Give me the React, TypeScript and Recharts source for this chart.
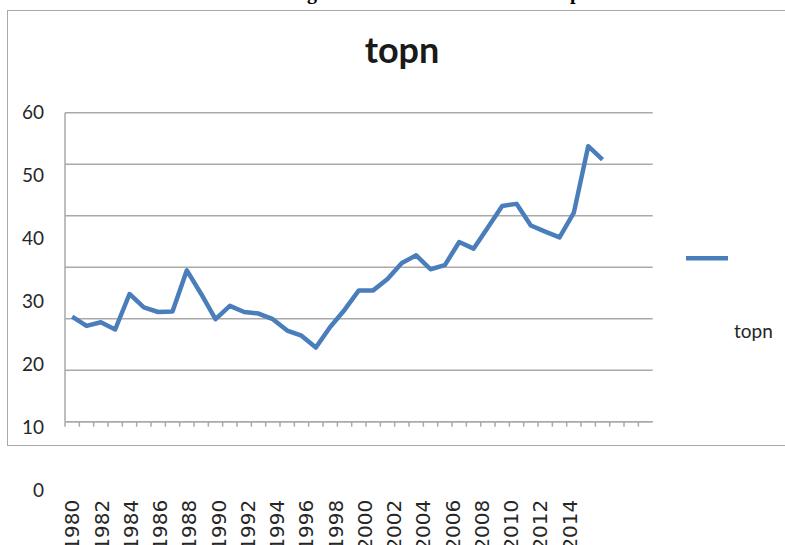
import React from "react";
import { LineChart, Line, XAxis, YAxis, CartesianGrid, Legend } from "recharts";

// yearly values (0..60)
const YEARS = [
  1980, 1981, 1982, 1983, 1984, 1985, 1986, 1987, 1988, 1989,
  1990, 1991, 1992, 1993, 1994, 1995, 1996, 1997, 1998, 1999,
  2000, 2001, 2002, 2003, 2004, 2005, 2006, 2007, 2008, 2009,
  2010, 2011, 2012, 2013, 2014, 2015, 2016, 2017,
];
const TOPN = [
  20.4, 18.6, 19.3, 17.9, 24.8, 22.2, 21.3, 21.4, 29.4, 24.8,
  19.9, 22.5, 21.3, 21.0, 19.9, 17.7, 16.7, 14.4, 18.4, 21.7,
  25.5, 25.5, 27.7, 30.8, 32.3, 29.6, 30.4, 34.9, 33.6, 37.7,
  41.9, 42.3, 38.1, 36.9, 35.8, 40.6, 53.5, 50.9,
];

// the axis has room for 41 categories, data stops in 2017
const CATEGORY_YEARS = [
  1980, 1981, 1982, 1983, 1984, 1985, 1986, 1987, 1988, 1989,
  1990, 1991, 1992, 1993, 1994, 1995, 1996, 1997, 1998, 1999,
  2000, 2001, 2002, 2003, 2004, 2005, 2006, 2007, 2008, 2009,
  2010, 2011, 2012, 2013, 2014, 2015, 2016, 2017, 2018, 2019, 2020,
];
const YEAR_LABELS = [
  1980, 1982, 1984, 1986, 1988, 1990, 1992, 1994, 1996,
  1998, 2000, 2002, 2004, 2006, 2008, 2010, 2012, 2014,
];
const Y_TICKS = [0, 10, 20, 30, 40, 50, 60];

const SERIES_NAME = "topn";
const BLUE = "#4a7ebb";
const GRID = "#a9a9a9";
const TEXT = "#262626";

const data = YEARS.map((year, i) => ({ year, topn: TOPN[i] }));
// tick marks sit between categories, like Excel
const boundaryTicks = CATEGORY_YEARS.map((y) => y - 0.5);
const xDomain = [CATEGORY_YEARS[0] - 0.5, CATEGORY_YEARS[CATEGORY_YEARS.length - 1] + 0.5];

const PLOT_TOP = 112.7;
// the printed labels are spaced wider than the gridlines in the source
const Y_LABEL_STRETCH = 1.2233;
const X_LABEL_ORIGIN = 72.2;
const X_LABEL_STRETCH = 1.0204;

const YTick = (props: any) => {
  const { x, y, payload } = props;
  const ly = PLOT_TOP - 0.7 + (y - PLOT_TOP) * Y_LABEL_STRETCH;
  return (
    <text x={x} y={ly} dy="0.35em" textAnchor="end" fontFamily="Lato" fontSize={19} fill={TEXT}>
      {payload.value}
    </text>
  );
};

const XLabel = (props: any) => {
  const { x, y, payload } = props;
  const lx = X_LABEL_ORIGIN + (x - X_LABEL_ORIGIN) * X_LABEL_STRETCH;
  return (
    <text
      transform={`translate(${lx},${y}) rotate(-90)`}
      dy="0.36em"
      textAnchor="end"
      fontFamily="DejaVu Sans"
      fontSize={20}
      fill={TEXT}
    >
      {payload.value}
    </text>
  );
};

const LegendContent = (props: any) => {
  const item = (props.payload || [])[0];
  if (!item) return null;
  return (
    <svg width={785} height={545} style={{ position: "absolute", left: 0, top: 0, overflow: "visible" }}>
      <line x1={686} y1={258.3} x2={728} y2={258.3} stroke={item.color} strokeWidth={4.5} />
      <text x={734} y={338} fontFamily="Lato" fontSize={19} fill={TEXT}>
        {item.value}
      </text>
    </svg>
  );
};

export default function App() {
  return (
    <div style={{ position: "absolute", left: 0, top: 0, width: 785, height: 545, overflow: "hidden", background: "#fff" }}>
      <div
        style={{
          position: "absolute",
          left: 7,
          top: 9.5,
          width: 800,
          height: 434,
          border: `1.5px solid ${GRID}`,
        }}
      />
      <svg width={785} height={545} style={{ position: "absolute", left: 0, top: 0 }}>
        <text x={307} y={-1.5} fontFamily="Liberation Serif" fontWeight="bold" fontSize={20} fill="#000">g</text>
        <text x={570} y={-1.5} fontFamily="Liberation Serif" fontWeight="bold" fontSize={20} fill="#000">p</text>
        <text x={402} y={63} textAnchor="middle" fontFamily="Lato" fontWeight="bold" fontSize={36} fill="#1a1a1a">
          topn
        </text>
      </svg>
      <div style={{ position: "absolute", left: 0, top: 0 }}>
        <LineChart
          width={785}
          height={545}
          data={data}
          margin={{ top: PLOT_TOP, right: 132.3, bottom: 0, left: 5 }}
        >
          <CartesianGrid xAxisId="grid" vertical={false} stroke={GRID} strokeWidth={1.5} />
          <XAxis
            xAxisId="grid"
            dataKey="year"
            type="number"
            domain={xDomain}
            allowDataOverflow
            ticks={boundaryTicks}
            interval={0}
            tickFormatter={() => ""}
            tickSize={5}
            tickLine={{ stroke: GRID, strokeWidth: 1.5 }}
            axisLine={{ stroke: GRID, strokeWidth: 1.5 }}
            height={10}
          />
          <XAxis
            xAxisId="lbl"
            dataKey="year"
            type="number"
            domain={xDomain}
            allowDataOverflow
            ticks={YEAR_LABELS}
            interval={0}
            axisLine={false}
            tickLine={false}
            tickSize={0}
            tickMargin={68}
            height={113.3}
            tick={<XLabel />}
          />
          <YAxis
            type="number"
            domain={[0, 60]}
            ticks={Y_TICKS}
            interval={0}
            axisLine={{ stroke: GRID, strokeWidth: 1.5 }}
            tickLine={false}
            tickSize={0}
            tickMargin={21}
            width={60}
            tick={<YTick />}
          />
          <Legend
            layout="vertical"
            align="right"
            verticalAlign="middle"
            wrapperStyle={{ left: 0, top: 0, right: "auto", bottom: "auto", width: 0, height: 0 }}
            content={<LegendContent />}
          />
          <Line
            xAxisId="grid"
            type="linear"
            dataKey="topn"
            name={SERIES_NAME}
            stroke={BLUE}
            strokeWidth={4.5}
            strokeLinejoin="round"
            dot={false}
            activeDot={false}
            isAnimationActive={false}
          />
        </LineChart>
      </div>
    </div>
  );
}
